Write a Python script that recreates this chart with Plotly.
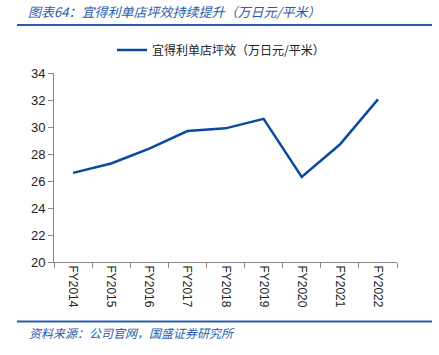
import plotly.graph_objects as go

categories = ["FY2014", "FY2015", "FY2016", "FY2017", "FY2018", "FY2019", "FY2020", "FY2021", "FY2022"]
values = [26.6, 27.3, 28.4, 29.7, 29.9, 30.6, 26.3, 28.7, 32.05]
series_name = "宜得利单店坪效（万日元/平米）"
title_text = "图表64：宜得利单店坪效持续提升（万日元/平米）"
source_text = "资料来源：公司官网，国盛证券研究所"
y_ticks = [20, 22, 24, 26, 28, 30, 32, 34]

BLUE = "#0a4a9c"
TXT_BLUE = "#2a5caa"

W, H = 439, 355
PL, PR, PT, PB = 54, 397, 73, 262   # plot area in pixels

def fx(px):
    return px / W
def fy(py):
    return (H - py) / H

fig = go.Figure()
fig.add_trace(go.Scatter(
    x=categories, y=values, mode="lines", name=series_name,
    line=dict(color=BLUE, width=2.5), xaxis="x", yaxis="y",
))

# decorative rules (header and footer) on a full-page overlay subplot
for ry in (25, 321.5):
    fig.add_trace(go.Scatter(
        x=[17, 432], y=[ry, ry], mode="lines", showlegend=False,
        hoverinfo="skip", line=dict(color=TXT_BLUE, width=2),
        xaxis="x2", yaxis="y2",
    ))

fig.update_layout(
    width=W, height=H,
    margin=dict(l=0, r=0, t=0, b=0),
    paper_bgcolor="white", plot_bgcolor="rgba(0,0,0,0)",
    font=dict(family="Liberation Sans, Noto Sans CJK SC", size=12, color="#222"),
    showlegend=True,
    legend=dict(orientation="h", x=fx(112), y=fy(50), xanchor="left", yanchor="middle",
                font=dict(family="Noto Sans CJK SC", size=12, color="#222"),
                bgcolor="rgba(0,0,0,0)"),
    xaxis=dict(
        domain=[fx(PL), fx(PR)], anchor="y",
        type="category", tickson="boundaries", ticks="outside", ticklen=5,
        range=[-0.5, len(categories) - 0.5],
        tickcolor="#888", showline=True, linecolor="#888", linewidth=1,
        showgrid=False, tickangle=90, automargin=False,
        tickfont=dict(family="Liberation Sans", size=12, color="#222"),
    ),
    yaxis=dict(
        domain=[fy(PB), fy(PT)], anchor="x",
        range=[20, 34], tickvals=y_ticks, ticks="outside", ticklen=5,
        tickcolor="#888", showline=True, linecolor="#888", linewidth=1,
        showgrid=False, zeroline=False, automargin=False,
        tickfont=dict(family="Liberation Sans", size=13, color="#222"),
    ),
    xaxis2=dict(domain=[0, 1], anchor="y2", range=[0, W], visible=False, fixedrange=True),
    yaxis2=dict(domain=[0, 1], anchor="x2", range=[H, 0], visible=False, fixedrange=True),
    annotations=[
        dict(text="<i>" + title_text + "</i>", xref="paper", yref="paper",
             x=fx(26), y=fy(12), xanchor="left", yanchor="middle",
             showarrow=False,
             font=dict(family="Noto Sans CJK SC", size=13, color=TXT_BLUE)),
        dict(text="<i>" + source_text + "</i>", xref="paper", yref="paper",
             x=fx(27), y=fy(332), xanchor="left", yanchor="middle",
             showarrow=False,
             font=dict(family="Noto Sans CJK SC", size=12, color=TXT_BLUE)),
    ],
)

fig.write_html("out.html", config={"displayModeBar": False})
